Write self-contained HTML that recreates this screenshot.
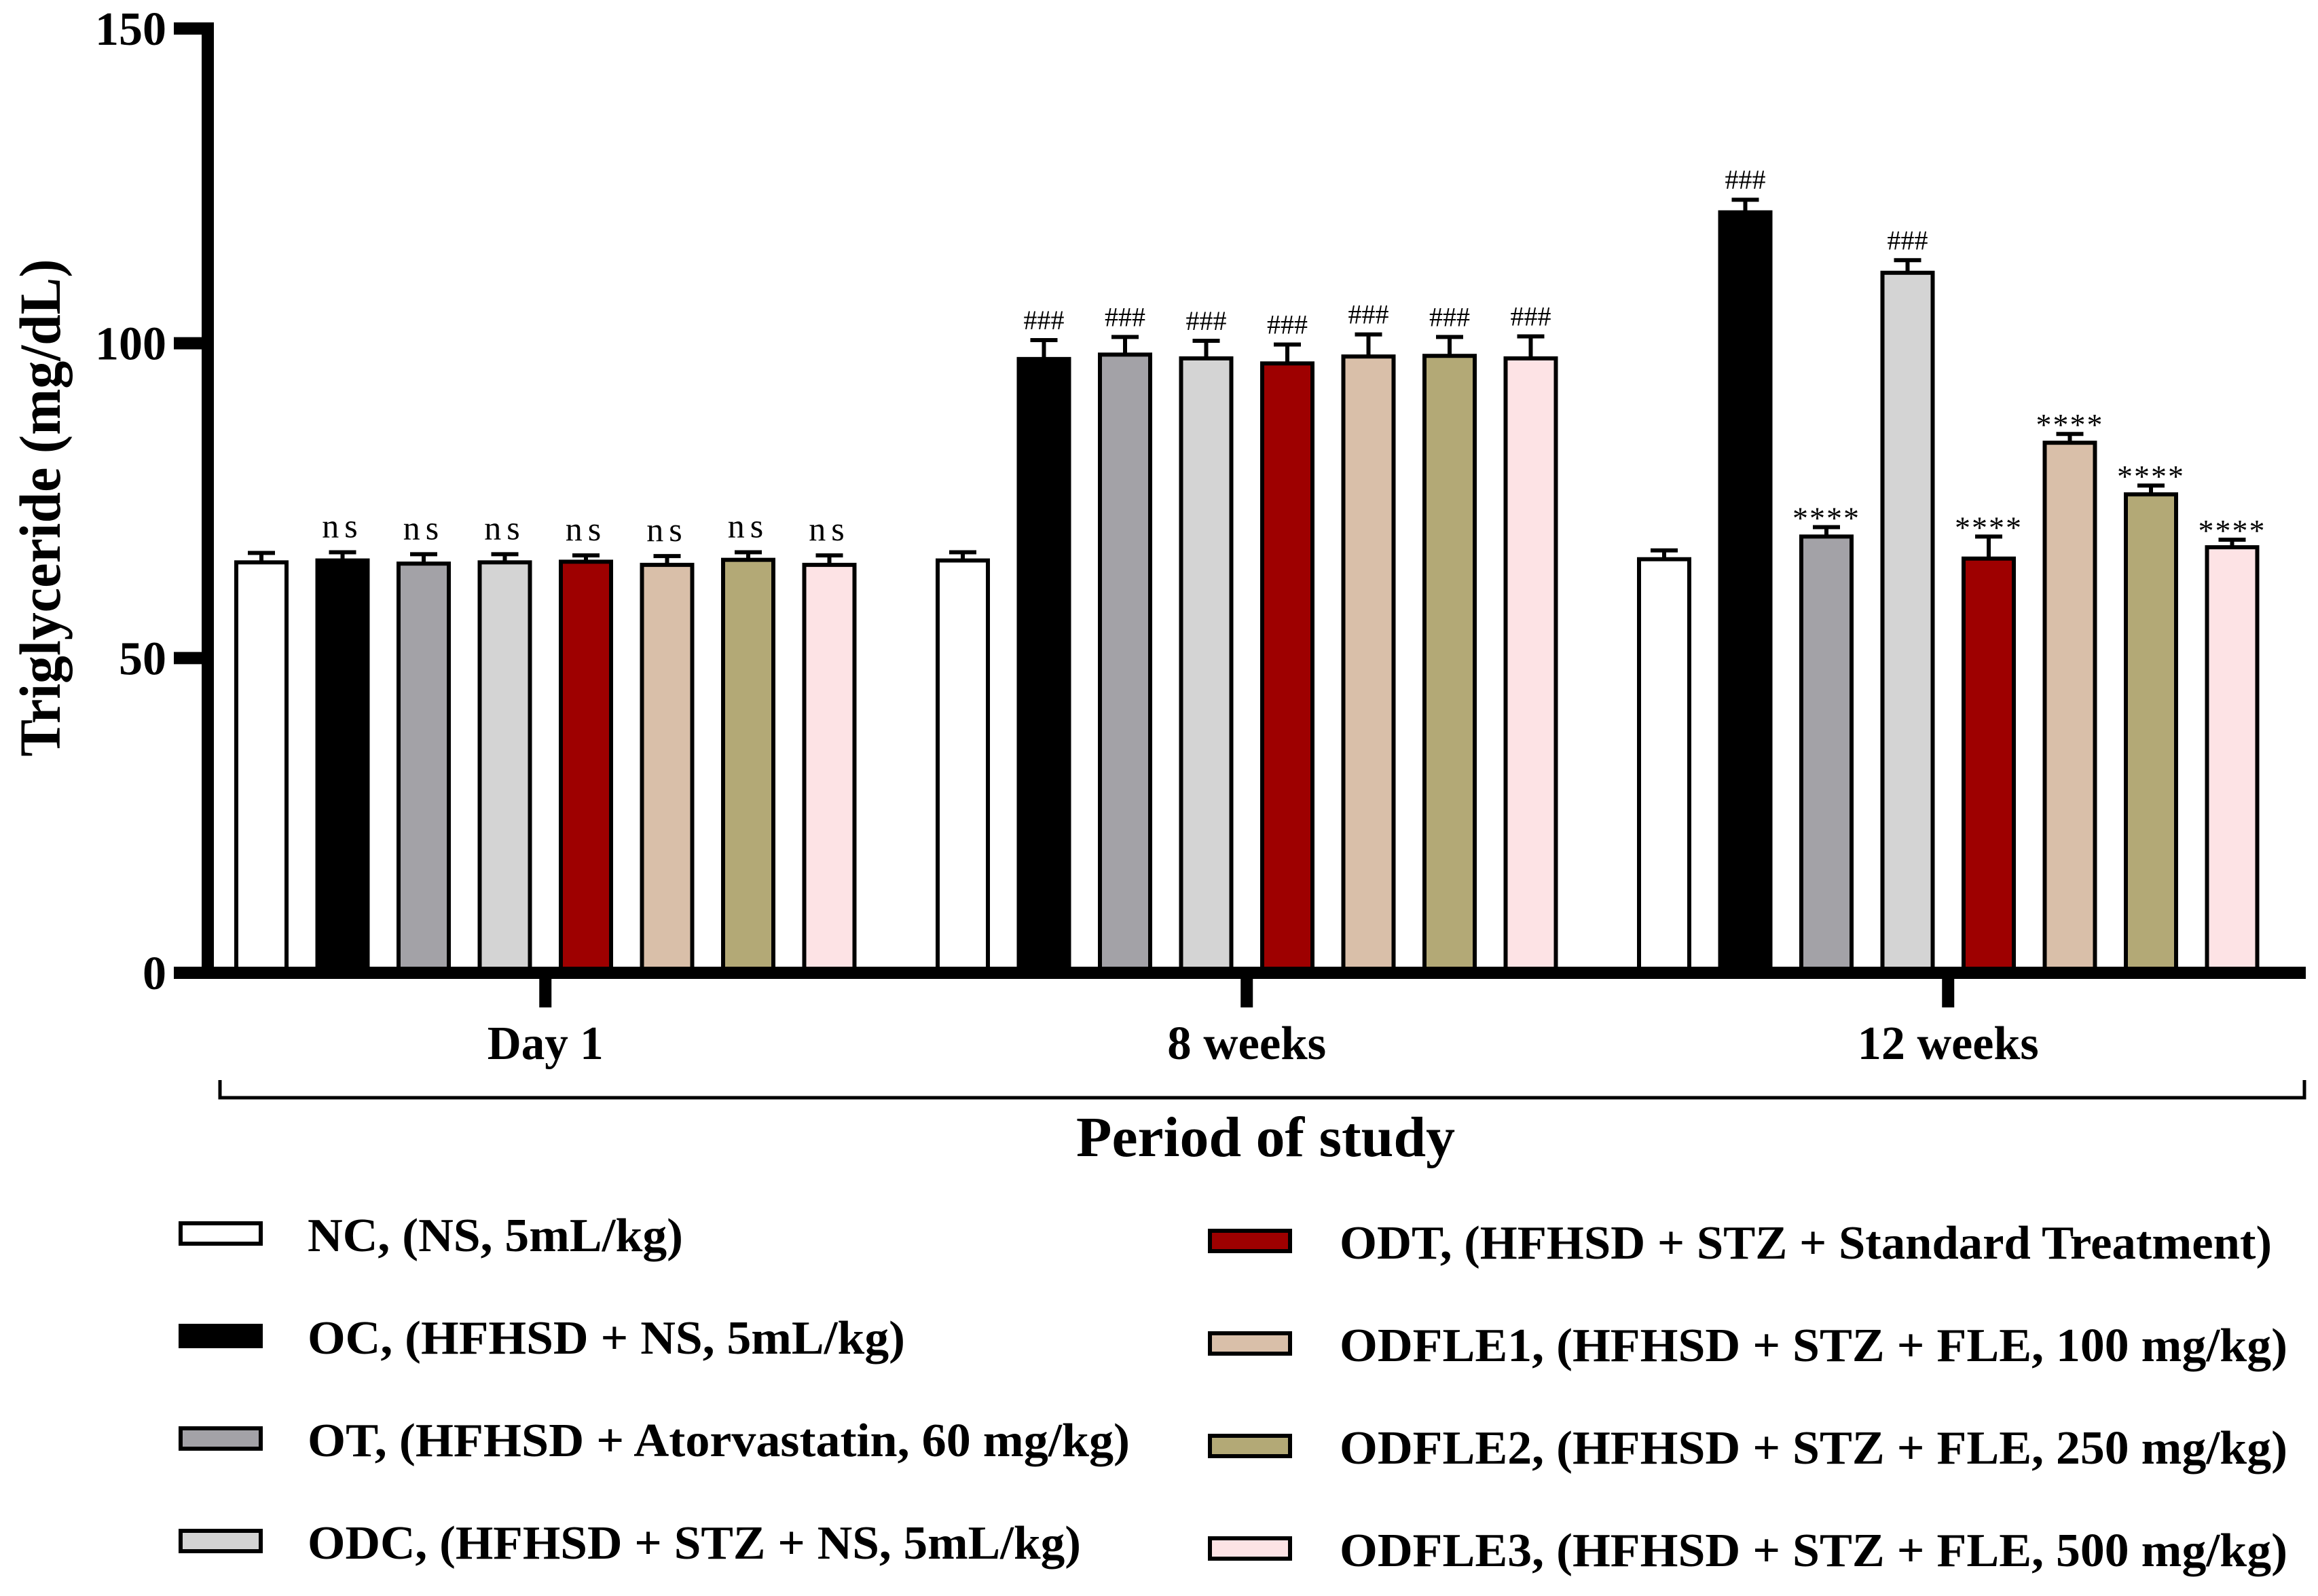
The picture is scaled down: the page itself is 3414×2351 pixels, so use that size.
<!DOCTYPE html>
<html><head><meta charset="utf-8"><style>
html,body{margin:0;padding:0;background:#fff;}
svg{display:block;font-family:"Liberation Serif",serif;}
</style></head><body>
<svg id="chart" xmlns="http://www.w3.org/2000/svg" width="3414" height="2351" viewBox="0 0 3414 2351">
<g id="marks"></g>
<g id="axes"></g>
<g id="legend"></g>
</svg>
<script>
const groups = ["Day 1", "8 weeks", "12 weeks"];
const seriesNames = ["NC, (NS, 5mL/kg)", "OC, (HFHSD + NS, 5mL/kg)", "OT, (HFHSD + Atorvastatin, 60 mg/kg)", "ODC, (HFHSD + STZ + NS, 5mL/kg)", "ODT, (HFHSD + STZ + Standard Treatment)", "ODFLE1, (HFHSD + STZ + FLE, 100 mg/kg)", "ODFLE2, (HFHSD + STZ + FLE, 250 mg/kg)", "ODFLE3, (HFHSD + STZ + FLE, 500 mg/kg)"];
const day1Values = [65.2, 65.5, 65.0, 65.2, 65.3, 64.8, 65.6, 64.8];
const week8Values = [65.5, 97.5, 98.2, 97.6, 96.8, 97.9, 98.0, 97.6];
const week12Values = [65.7, 120.8, 69.3, 111.2, 65.8, 84.2, 76.0, 67.6];
const day1Errors = [1.5, 1.3, 1.5, 1.3, 1.0, 1.4, 1.2, 1.5];
const week8Errors = [1.3, 3.0, 2.8, 2.8, 3.0, 3.5, 3.0, 3.5];
const week12Errors = [1.4, 2.0, 1.5, 2.0, 3.5, 1.4, 1.4, 1.2];
const day1Labels = ["", "ns", "ns", "ns", "ns", "ns", "ns", "ns"];
const week8Labels = ["", "###", "###", "###", "###", "###", "###", "###"];
const week12Labels = ["", "###", "****", "###", "****", "****", "****", "****"];
const yTicks = [0, 50, 100, 150];
const colors = ["#ffffff", "#000000", "#a3a2a7", "#d4d4d4", "#9e0000", "#d9bfa9", "#b3a976", "#fde3e5"];

const NS = "http://www.w3.org/2000/svg";
const Y0 = 1433, PXU = (1433 - 42) / 150;
const y = v => Y0 - v * PXU;
const G0 = 345, GSTEP = 1033, BSTEP = 119.5, BW = 80;
const x = (g, i) => G0 + g * GSTEP + i * BSTEP;
function el(tag, attrs, parent, text) {
  const e = document.createElementNS(NS, tag);
  for (const k in attrs) e.setAttribute(k, attrs[k]);
  if (text !== undefined) e.textContent = text;
  parent.appendChild(e);
  return e;
}
const marks = document.getElementById('marks');
const axes = document.getElementById('axes');
const legend = document.getElementById('legend');
const allVals = [day1Values, week8Values, week12Values];
const allErr = [day1Errors, week8Errors, week12Errors];
const allLab = [day1Labels, week8Labels, week12Labels];

allVals.forEach((vals, g) => {
  vals.forEach((v, i) => {
    const bx = x(g, i), cx = bx + BW / 2;
    const top = y(v), cap = y(v + allErr[g][i]);
    const eb = el('path', {d: `M${cx} ${top}V${cap}M${cx - 20} ${cap}H${cx + 20}`, stroke: '#000', 'stroke-width': 6, fill: 'none'}, marks);
    
    
    const r = el('rect', {x: bx + 3, y: top, width: BW - 6, height: Y0 - top, fill: colors[i], stroke: '#000', 'stroke-width': 6}, marks);
    
    
    const lab = allLab[g][i];
    if (lab) {
      let t;
      if (lab === 'ns') t = el('text', {x: cx, y: cap - 22, 'text-anchor': 'middle', 'font-size': 50, 'letter-spacing': 8}, marks, lab);
      else if (lab === '###') t = el('text', {x: cx, y: cap - 16, 'text-anchor': 'middle', 'font-size': 40}, marks, lab);
      else t = el('text', {x: cx, y: cap + 2, 'text-anchor': 'middle', 'font-size': 46, 'letter-spacing': 2}, marks, lab);
      
      
    }
  });
});

// axes
const ya = el('line', {x1: 306, y1: 33, x2: 306, y2: Y0 + 9, stroke: '#000', 'stroke-width': 18}, axes);


const xa = el('line', {x1: 256, y1: Y0, x2: 3396, y2: Y0, stroke: '#000', 'stroke-width': 18}, axes);


yTicks.forEach(t => {
  const tl = el('line', {x1: 256, y1: y(t), x2: 306, y2: y(t), stroke: '#000', 'stroke-width': 18}, axes);
  
  
  const tt = el('text', {x: 245, y: y(t) + 24, 'text-anchor': 'end', 'font-size': 70, 'font-weight': 'bold'}, axes, String(t));
  
  
});
const dayW = [171, 234, 267];
groups.forEach((gname, g) => {
  const cx = x(g, 0) + (7 * BSTEP + BW) / 2;
  const tl = el('line', {x1: cx, y1: Y0, x2: cx, y2: 1484, stroke: '#000', 'stroke-width': 18}, axes);
  
  
  const tt = el('text', {x: cx, y: 1560, 'text-anchor': 'middle', 'font-size': 70, 'font-weight': 'bold', textLength: dayW[g], lengthAdjust: 'spacingAndGlyphs'}, axes, gname);
  
  
});
const br = el('path', {d: 'M324 1591V1617H3394V1591', stroke: '#000', 'stroke-width': 5, fill: 'none'}, axes);


const xt = el('text', {x: 1864, y: 1703, 'text-anchor': 'middle', 'font-size': 84, 'font-weight': 'bold', textLength: 558, lengthAdjust: 'spacingAndGlyphs'}, axes, 'Period of study');


const yt = el('text', {x: 0, y: 0, transform: 'translate(88,748) rotate(-90)', 'text-anchor': 'middle', 'font-size': 86, 'font-weight': 'bold', textLength: 733, lengthAdjust: 'spacingAndGlyphs'}, axes, 'Triglyceride (mg/dL)');



// legend
const legW = [553, 880, 1211, 1139, 1373, 1396, 1396, 1396];
seriesNames.forEach((n, i) => {
  const col = i < 4 ? 0 : 1, row = i % 4;
  const sx = col ? 1782 : 266, tx = col ? 1973 : 453;
  const cy = (col ? 1828 : 1817) + row * 151;
  const g = el('g', {}, legend);
  
  
  const s = el('rect', {x: sx, y: cy - 15, width: 118, height: 30, fill: colors[i], stroke: '#000', 'stroke-width': 6}, g);
  
  
  const t = el('text', {x: tx, y: cy + 26, 'font-size': 70, 'font-weight': 'bold', textLength: legW[i], lengthAdjust: 'spacingAndGlyphs'}, g, n);
  
  
});
</script>
</body></html>
